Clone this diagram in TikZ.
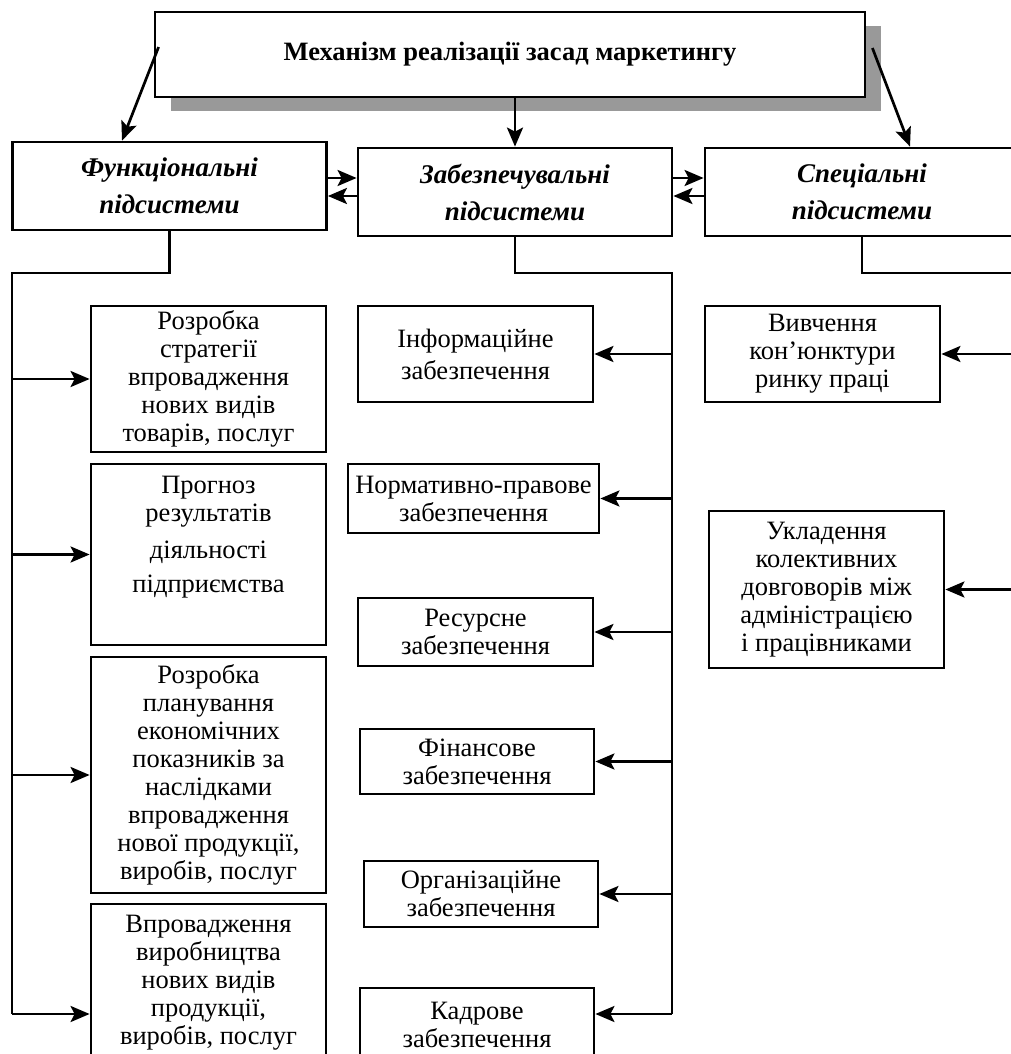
\documentclass[tikz,border=0pt]{standalone}
\usepackage{fontspec}
\setmainfont{Liberation Serif}
\usetikzlibrary{positioning,arrows.meta,shadows}

\begin{document}
\begin{tikzpicture}[x=1pt, y=-1pt,
				box/.style={rectangle, draw=black, line width=2.8pt, fill=white, align=center, inner sep=2pt, font=\fontsize{26.5}{28}\selectfont},
				head/.style={box, minimum width=314pt, minimum height=88pt, font=\fontsize{27}{37}\selectfont\bfseries\itshape},
				item/.style={box, minimum width=235pt}
			]
			\useasboundingbox (0,0) rectangle (1010,1054);
			\node[box, minimum width=710pt, minimum height=85pt, font=\fontsize{26.5}{28}\selectfont\bfseries,
				general shadow={draw=none, fill=black!40, shadow xshift=16pt, shadow yshift=-14pt}] (title) at (510,54.5) {Механізм реалізації засад маркетингу};
			\node[head] (funk) at (169.5,186) {Функціональні\\підсистеми};
			\node[head] (zabezp) at (515,192) {Забезпечувальні\\підсистеми};
			\node[head] (spec) at (862,192) {Спеціальні\\підсистеми};
			\node[item, minimum height=146pt] (strat) at (208.5,379) {Розробка\\стратегії\\впровадження\\нових видів\\товарів, послуг};
			\node[item, minimum height=181pt] (prognoz) at (208.5,554.5) {Прогноз\\результатів\\[9pt]діяльності\\[6pt]підприємства\\[4pt]\strut};
			\node[item, minimum height=236pt] (planuv) at (208.5,775) {Розробка\\планування\\економічних\\показників за\\наслідками\\впровадження\\нової продукції,\\виробів, послуг};
			\node[item, minimum height=157pt] (vyrobn) at (208.5,982.5) {Впровадження\\виробництва\\нових видів\\продукції,\\виробів, послуг};
			\node[item, minimum height=96pt] (inform) at (475.5,354) {Інформаційне\\[4pt]забезпечення};
			\node[item, minimum width=251pt, minimum height=69pt] (normat) at (473.5,498.5) {Нормативно-правове\\забезпечення};
			\node[item, minimum height=68pt] (resurs) at (475.5,632) {Ресурсне\\забезпечення};
			\node[item, minimum width=234pt, minimum height=65pt] (finans) at (477,761.5) {Фінансове\\забезпечення};
			\node[item, minimum width=234pt, minimum height=66pt] (orhan) at (481,894) {Організаційне\\забезпечення};
			\node[item, minimum width=234pt, minimum height=74pt] (kadry) at (477,1025) {Кадрове\\забезпечення};
			\node[item, minimum height=96pt] (konjunkt) at (822.5,354) {Вивчення\\кон’юнктури\\ринку праці};
			\node[item, minimum height=157pt] (ukladen) at (826.5,589.5) {Укладення\\колективних\\довговорів між\\адміністрацією\\і працівниками};
			\coordinate (fbus) at (12,273);
			\coordinate (fend) at (12,1014);
			\coordinate (zbus) at (672,273);
			\coordinate (zend) at (672,1014);
			\coordinate (sbus) at (1030,273);
			\begin{scope}[line width=2.7pt]
			\draw (funk.south) |- (fbus) -- (fend);
			\draw (zabezp.south) |- (zbus) -- (zend);
			\draw (spec.south) |- (sbus) -- (sbus |- ukladen.east);
			\end{scope}
			\begin{scope}[line width=2.7pt, -{Stealth[length=19pt, width=16pt, inset=4pt]}]
			\draw ([xshift=5pt, yshift=7.5pt]title.west) -- ([xshift=-47.5pt]funk.north);
			\draw (title.south -| zabezp.north) -- (zabezp.north);
			\draw ([xshift=6pt, yshift=6.5pt]title.east) -- ([xshift=48pt]spec.north);
			\draw ([yshift=8pt]funk.east) -- ([yshift=14pt]zabezp.west);
			\draw ([yshift=-4pt]zabezp.west) -- ([yshift=-10pt]funk.east);
			\draw ([yshift=14pt]zabezp.east) -- ([yshift=14pt]spec.west);
			\draw ([yshift=-4pt]spec.west) -- ([yshift=-4pt]zabezp.east);
			\draw (fbus |- strat.west) -- (strat.west);
			\draw (fbus |- prognoz.west) -- (prognoz.west);
			\draw (fbus |- planuv.west) -- (planuv.west);
			\draw (fend) -- (fend -| vyrobn.west);
			\draw (zbus |- inform.east) -- (inform.east);
			\draw (zbus |- normat.east) -- (normat.east);
			\draw (zbus |- resurs.east) -- (resurs.east);
			\draw (zbus |- finans.east) -- (finans.east);
			\draw (zbus |- orhan.east) -- (orhan.east);
			\draw (zend) -- (zend -| kadry.east);
			\draw (sbus |- konjunkt.east) -- (konjunkt.east);
			\draw (sbus |- ukladen.east) -- (ukladen.east);
			\end{scope}
			\end{tikzpicture}
\end{document}
